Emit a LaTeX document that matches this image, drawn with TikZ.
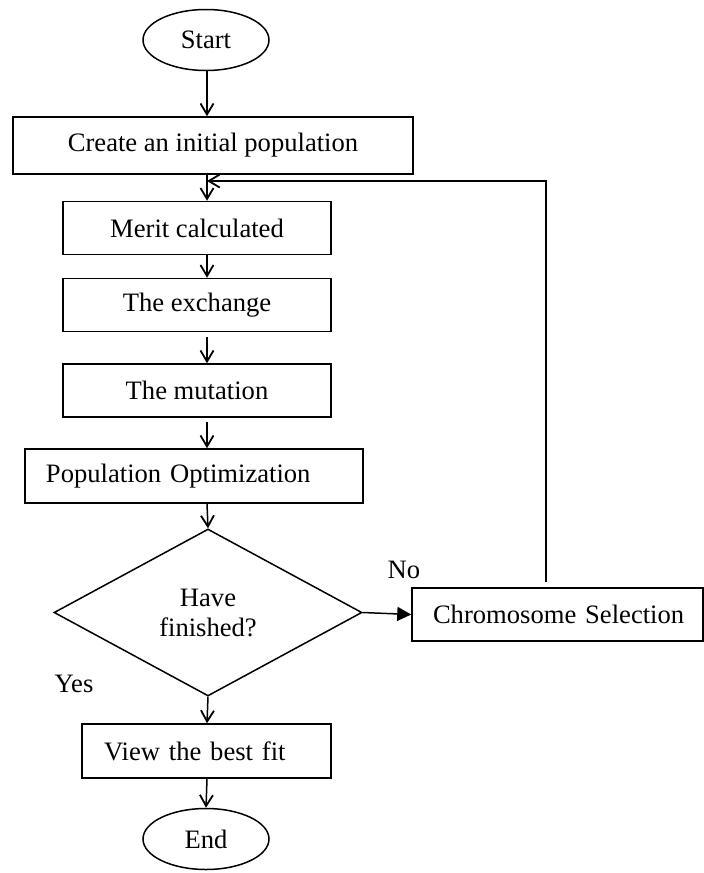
\documentclass[tikz,border=0pt]{standalone}
\usepackage{fontspec}
\setmainfont{Liberation Serif}
\usetikzlibrary{shapes.geometric,arrows.meta}

\begin{document}
\begin{tikzpicture}[x=0.5pt,y=-0.5pt,font=\fontsize{13.3}{15}\selectfont,
    line width=0.75pt,
    term/.style={draw,ellipse,minimum width=63pt,minimum height=30.5pt,inner sep=0pt},
    procbox/.style={draw,rectangle,minimum height=26.5pt,inner sep=0pt},
    leftbox/.style={procbox,align=left,inner xsep=10.5pt},
    decide/.style={draw,diamond,minimum width=154pt,minimum height=83.5pt,inner sep=0pt,align=center},
    flow/.style={-{Straight Barb[length=5.5pt,width=6.5pt,line width=0.9pt]}},
    yesno/.style={-{Triangle[length=7pt,width=7pt]}}]
    \useasboundingbox (0,0) rectangle (704,873);
    \coordinate (t) at (207,0);
    % main chain
    \node[term] (start) at (206,40) {Start};
    \node[procbox,minimum width=200pt,minimum height=28.5pt] (create) at (213,145.5) {Create an initial population};
    \node[procbox,minimum width=134pt] (merit) at (197,228) {Merit calculated};
    \node[procbox,minimum width=134pt] (exch) at (197,305) {The exchange};
    \node[procbox,minimum width=134pt] (mut) at (197,390.5) {The mutation};
    \node[leftbox,text width=148pt,minimum height=27pt] (popt) at (194,476) {\mbox{Population Optimization}};
    \node[decide] (fin) at (208,612.5) {Have\\finished?};
    \node[leftbox,text width=124.5pt] (chrom) at (557.5,614.5) {\mbox{Chromosome Selection}};
    \node[leftbox,text width=102.5pt,inner xsep=11pt,minimum height=27pt] (view) at (206.5,751) {\mbox{View the best fit}};
    \node[term] (end) at (206,839) {End};
    \draw[flow] (start.south -| t) -- (create.north -| t);
    \draw[flow] (create.south -| t) -- (merit.north -| t);
    \draw[flow] (merit.south -| t) -- (exch.north -| t);
    \draw[flow] ([yshift=-2.5pt]exch.south -| t) -- (mut.north -| t);
    \draw[flow] ([yshift=-2pt]mut.south -| t) -- (popt.north -| t);
    \draw[flow] (popt.south -| t) -- (fin.north);
    \draw[flow] (fin.south) -- (view.north -| t);
    \draw[flow] (view.south -| t) -- (end.north);
    % branches
    \draw[yesno] (fin.east) -- (chrom.west);
    \node (no) at (404,570) {No};
    \node (yes) at (74,684) {Yes};
    % back to the top
    \coordinate (fbend) at (207,181);
    \draw[flow] ([xshift=-5.75pt,yshift=2.5pt]chrom.north) |- (fbend);
\end{tikzpicture}
\end{document}
